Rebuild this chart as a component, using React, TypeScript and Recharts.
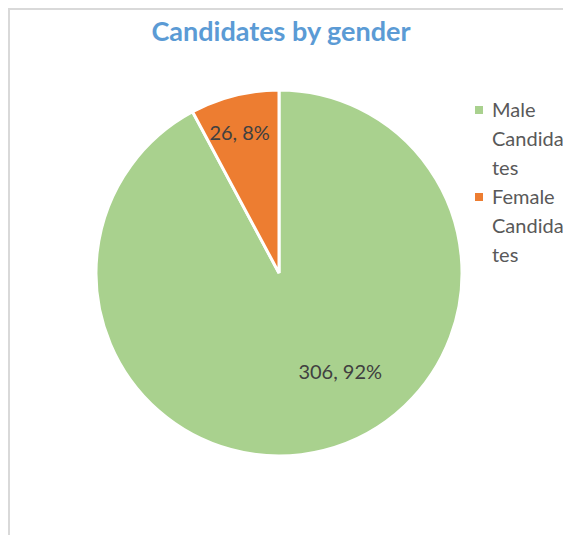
import React from 'react';
import { PieChart, Pie, Cell, Legend } from 'recharts';

// categories and values
const categories = ['Male Candidates', 'Female Candidates'];
const counts = [306, 26];
const colors = ['#a9d18e', '#ed7d31'];

// label placement (angle shift in degrees, radius as share of outer radius)
const labelAngleShift = [18, 1.5];
const labelRadius = [0.63, 0.8];

const total = counts.reduce((a, b) => a + b, 0);
const data = categories.map((name, i) => ({ name, value: counts[i] }));

const RAD = Math.PI / 180;
const FONT = "Lato, 'Open Sans', sans-serif";

const renderLabel = (props: any) => {
  const { cx, cy, midAngle, outerRadius, index, value } = props;
  const a = (midAngle + labelAngleShift[index]) * RAD;
  const r = outerRadius * labelRadius[index];
  const x = cx + r * Math.cos(a);
  const y = cy - r * Math.sin(a);
  const pct = Math.round((value / total) * 100);
  return (
    <text
      x={x}
      y={y}
      fill="#404040"
      fontSize={20}
      fontFamily={FONT}
      textAnchor="middle"
      dominantBaseline="central"
    >
      {`${value}, ${pct}%`}
    </text>
  );
};

const renderLegend = () => (
  <div style={{ fontFamily: FONT, fontSize: 20, color: '#595959', lineHeight: '29px' }}>
    {categories.map((name, i) => (
      <div key={name} style={{ display: 'flex', alignItems: 'flex-start' }}>
        <span
          style={{
            width: 8,
            height: 8,
            background: colors[i],
            marginTop: 11,
            marginRight: 9,
            flexShrink: 0,
          }}
        />
        <span style={{ width: 73, overflowWrap: 'anywhere' }}>{name}</span>
      </div>
    ))}
  </div>
);

export default function App() {
  return (
    <>
      <style>{'html, body { overflow: hidden; }'}</style>
      <div
        style={{
          position: 'relative',
          width: 600,
          height: 600,
          borderTop: '2px solid #d9d9d9',
          borderLeft: '2px solid #d9d9d9',
          overflow: 'hidden',
          background: '#fff',
        }}
      >
        <div
          style={{
            position: 'absolute',
            top: 4,
            left: 0,
            width: 542,
            textAlign: 'center',
            fontFamily: FONT,
            fontWeight: 700,
            fontSize: 27,
            color: '#5b9bd5',
          }}
        >
          Candidates by gender
        </div>
        <PieChart width={600} height={600} margin={{ top: 0, right: 0, bottom: 0, left: 0 }}>
          <Pie
            data={data}
            dataKey="value"
            nameKey="name"
            cx={269}
            cy={263}
            outerRadius={183}
            startAngle={90}
            endAngle={-270}
            stroke="#ffffff"
            strokeWidth={3}
            label={renderLabel}
            labelLine={false}
            isAnimationActive={false}
          >
            {data.map((d, i) => (
              <Cell key={d.name} fill={colors[i]} />
            ))}
          </Pie>
          <Legend
            layout="vertical"
            verticalAlign="top"
            align="right"
            content={renderLegend}
            wrapperStyle={{ top: 85, left: 465, width: 110 }}
          />
        </PieChart>
      </div>
    </>
  );
}
